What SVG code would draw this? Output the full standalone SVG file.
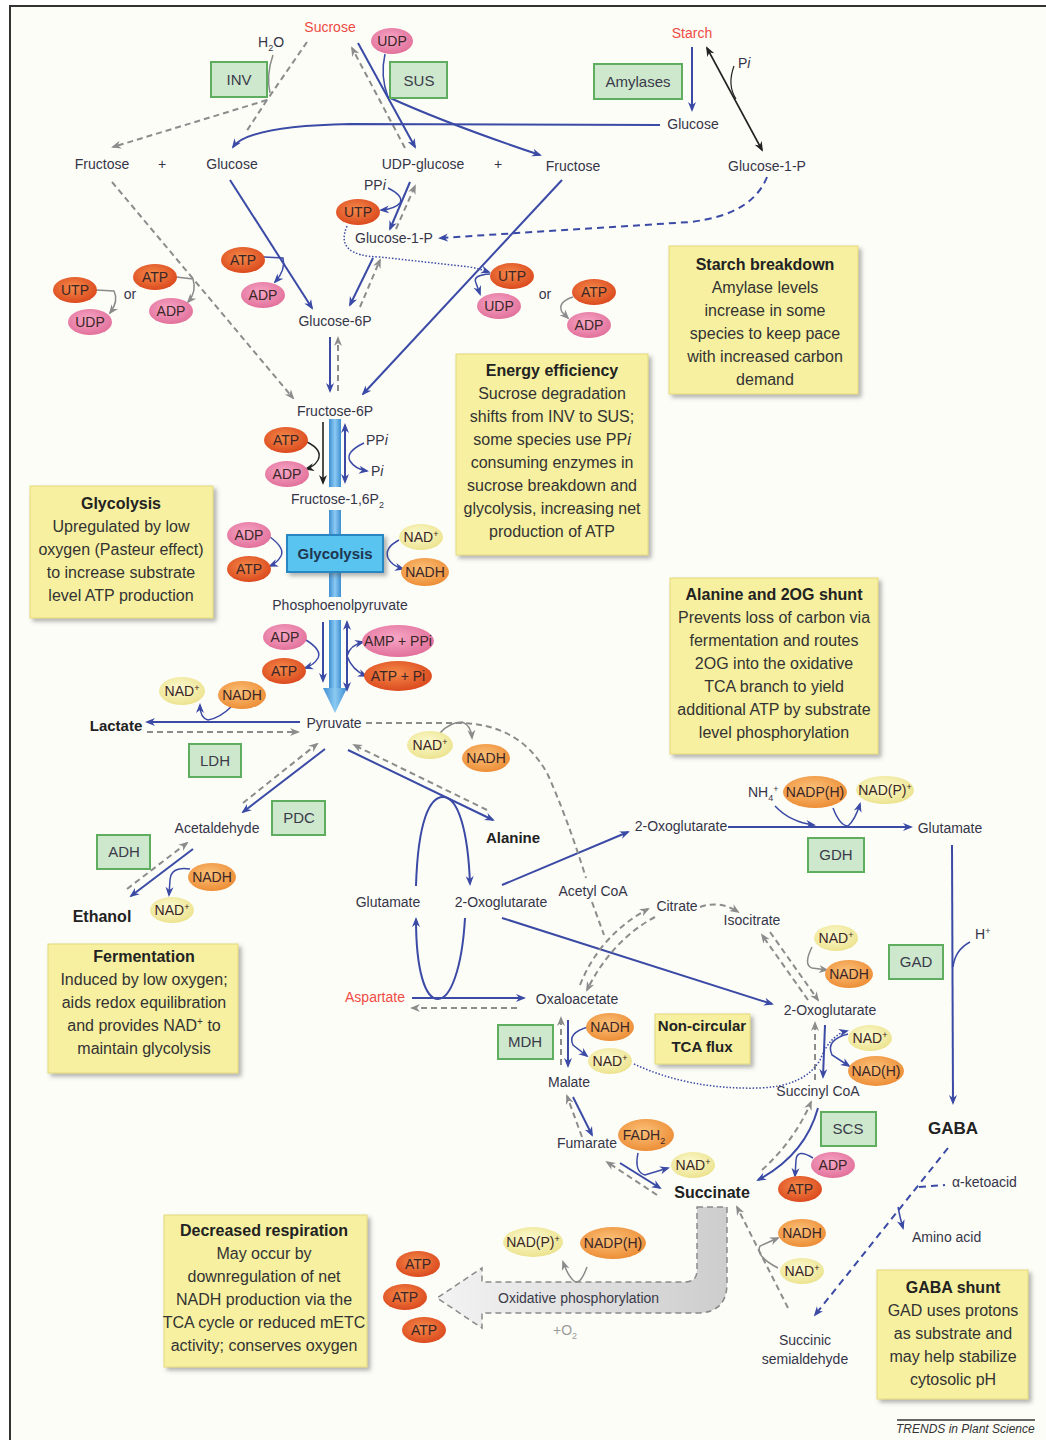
<svg xmlns="http://www.w3.org/2000/svg" width="1046" height="1440" viewBox="0 0 1046 1440">
<defs>
<style>
text{font-family:"Liberation Sans",Arial,sans-serif}
.t{font-size:14px;fill:#353548;text-anchor:middle}
.ts{font-size:14px;fill:#353548}
.tb{font-size:15px;font-weight:bold;fill:#222;text-anchor:middle}
.red{fill:#ee4b43}
.e{font-size:14px;fill:#3a2626;text-anchor:middle}
.n{font-size:16px;fill:#333;text-anchor:middle}
.nh{font-size:16px;font-weight:bold;fill:#222;text-anchor:middle}
.enz{font-size:15px;fill:#3a3a4a;text-anchor:middle}
.note{fill:#f6f0a0;stroke:#e3d97c;stroke-width:1;filter:url(#sh)}
.grn{fill:#cde8cc;stroke:#5fae5f;stroke-width:2}
.b{fill:none;stroke:#3a4aa5;stroke-width:2}
.bt{fill:none;stroke:#3a4aa5;stroke-width:1.5}
.bd{fill:none;stroke:#3a4aa5;stroke-width:2;stroke-dasharray:7,5}
.bdot{fill:none;stroke:#3a4aa5;stroke-width:1.5;stroke-dasharray:1.5,1.8}
.g{fill:none;stroke:#8c8c8c;stroke-width:2;stroke-dasharray:6,4}
.gs{fill:none;stroke:#8a8a8a;stroke-width:1.5}
.k{fill:none;stroke:#222;stroke-width:1.6}
.atp{fill:url(#gAtp)}
.adp{fill:url(#gAdp)}
.nadh{fill:url(#gNadh)}
.nad{fill:url(#gNad)}
</style>
<radialGradient id="gAtp" cx="45%" cy="40%" r="65%"><stop offset="0" stop-color="#f58a4a"/><stop offset="1" stop-color="#d9451b"/></radialGradient>
<radialGradient id="gAdp" cx="45%" cy="40%" r="65%"><stop offset="0" stop-color="#f7a6c6"/><stop offset="1" stop-color="#e06d98"/></radialGradient>
<radialGradient id="gNadh" cx="45%" cy="40%" r="65%"><stop offset="0" stop-color="#fbc27a"/><stop offset="1" stop-color="#ec8a32"/></radialGradient>
<radialGradient id="gNad" cx="45%" cy="40%" r="65%"><stop offset="0" stop-color="#fdfbd2"/><stop offset="1" stop-color="#ebe18a"/></radialGradient>
<linearGradient id="gBar" x1="0" x2="1" y1="0" y2="0"><stop offset="0" stop-color="#3d8ed2"/><stop offset="0.5" stop-color="#8ccaf2"/><stop offset="1" stop-color="#3d8ed2"/></linearGradient>
<linearGradient id="gOx" x1="0" x2="1" y1="0" y2="0"><stop offset="0" stop-color="#f3f3f3"/><stop offset="1" stop-color="#cdcdcd"/></linearGradient>
<filter id="sh" x="-10%" y="-10%" width="130%" height="130%"><feDropShadow dx="3" dy="3" stdDeviation="2" flood-color="#555" flood-opacity="0.45"/></filter>
<marker id="ab" viewBox="0 0 10 10" refX="8" refY="5" markerWidth="10" markerHeight="10" markerUnits="userSpaceOnUse" orient="auto-start-reverse"><path d="M0,1 L10,5 L0,9 L3,5z" fill="#3a4aa5"/></marker>
<marker id="ag" viewBox="0 0 10 10" refX="8" refY="5" markerWidth="10" markerHeight="10" markerUnits="userSpaceOnUse" orient="auto-start-reverse"><path d="M0,1 L10,5 L0,9 L3,5z" fill="#8c8c8c"/></marker>
<marker id="ak" viewBox="0 0 10 10" refX="8" refY="5" markerWidth="10" markerHeight="10" markerUnits="userSpaceOnUse" orient="auto-start-reverse"><path d="M0,1 L10,5 L0,9 L3,5z" fill="#222"/></marker>
</defs>

<rect x="0" y="0" width="1046" height="1440" fill="#ffffff"/>
<rect x="10" y="6" width="1050" height="1450" fill="#fdfdf8" stroke="#333" stroke-width="2"/>

<!-- glycolysis bar -->
<g id="glycolysis-bar" fill="url(#gBar)">
<rect x="329" y="419" width="12" height="68"/>
<rect x="329" y="510" width="12" height="26"/>
<rect x="329" y="572" width="12" height="25"/>
<rect x="329" y="620" width="12" height="70"/>
<path d="M323,688 L347,688 L335,713 Z"/>
</g>

<!-- oxidative phosphorylation arrow -->
<g id="oxphos">
<path d="M697,1207 L727,1207 L727,1283 Q727,1313 697,1313 L482,1313 L482,1328 L437,1298 L482,1268 L482,1282 L685,1282 Q697,1282 697,1270 Z" fill="url(#gOx)" stroke="#8a8a8a" stroke-width="1.5" stroke-dasharray="6,4"/>
<text class="ts" x="498" y="1303" style="fill:#3a3a4a">Oxidative phosphorylation</text>
<text x="553" y="1335" style="font-size:14px;fill:#9a9a9a">+O<tspan dy="4" style="font-size:9px">2</tspan></text>
</g>

<!-- connectors -->
<g id="connectors">
<!-- sucrose / SUS / INV -->
<path class="b" d="M358,43 L415,147" marker-end="url(#ab)"/>
<path class="g" d="M405,148 L352,48" marker-end="url(#ag)"/>
<path class="bt" d="M385,54 Q380,76 388,97"/>
<path class="b" d="M388,97 Q450,125 540,155" marker-end="url(#ab)"/>
<path class="b" d="M660,125 L350,124 Q248,126 233,147" marker-end="url(#ab)"/>
<path class="b" d="M692,47 L692,110" marker-end="url(#ab)"/>
<path class="k" d="M707,48 L762,150" marker-start="url(#ak)" marker-end="url(#ak)"/>
<path class="k" style="stroke-width:1.2" d="M734,66 Q727,85 736,99"/>
<path class="bd" d="M767,177 Q752,215 690,222 L440,238" marker-end="url(#ab)"/>
<path class="g" d="M307,42 L267,100"/>
<path class="g" d="M267,100 L113,147" marker-end="url(#ag)"/>
<path class="g" d="M267,100 L246,132"/>
<path class="gs" d="M273,55 Q266,75 270,93"/>
<path class="g" d="M112,182 L293,398" marker-end="url(#ag)"/>
<path class="gs" d="M176,277 L193,279 Q197,292 188,302" marker-end="url(#ag)"/>
<path class="gs" d="M96,290 L114,291 Q119,301 110,313" marker-end="url(#ag)"/>
<path class="b" d="M230,180 L312,308" marker-end="url(#ab)"/>
<path class="bt" d="M264,257 L283,258 Q286,270 275,282" marker-end="url(#ab)"/>
<path class="b" d="M562,180 L363,394" marker-end="url(#ab)"/>
<path class="b" d="M410,182 L390,229" marker-end="url(#ab)"/>
<path class="g" d="M396,229 L415,186" marker-end="url(#ag)"/>
<path class="bt" d="M388,188 Q404,196 400,203 Q395,209 381,210" marker-end="url(#ab)"/>
<path class="bdot" d="M347,226 Q334,256 380,257 L470,267 Q480,269 489,272" marker-end="url(#ab)"/>
<path class="bt" d="M490,274 Q472,275 476,283 L480,294" marker-end="url(#ab)"/>
<path class="gs" d="M573,297 Q557,302 562,312 L568,318" marker-end="url(#ag)"/>
<path class="b" d="M373,258 L350,305" marker-end="url(#ab)"/>
<path class="g" d="M360,307 L380,260" marker-end="url(#ag)"/>
<path class="b" d="M330,337 L330,391" marker-end="url(#ab)"/>
<path class="g" d="M338,391 L338,338" marker-end="url(#ag)"/>
<!-- upper glycolysis -->
<path class="k" d="M323,422 L323,483" marker-end="url(#ak)"/>
<path class="k" style="stroke-width:1.4" d="M307,442 Q323,450 318,460 Q314,467 306,469" marker-end="url(#ak)"/>
<path class="b" d="M345,425 L345,482" marker-start="url(#ab)" marker-end="url(#ab)"/>
<path class="bt" d="M364,443 Q345,452 350,461 Q355,469 367,471" marker-end="url(#ab)"/>
<path class="bt" d="M270,537 Q285,548 281,556 Q277,563 270,566" marker-end="url(#ab)"/>
<path class="bt" d="M399,540 Q384,548 388,558 Q392,566 403,569" marker-end="url(#ab)"/>
<path class="b" d="M323,622 L323,681" marker-end="url(#ab)"/>
<path class="bt" d="M306,640 Q322,650 318,658 Q314,665 305,668" marker-end="url(#ab)"/>
<path class="b" d="M347,622 L347,690" marker-start="url(#ab)" marker-end="url(#ab)"/>
<path class="bt" d="M347,656 Q350,645 363,642" marker-end="url(#ab)"/>
<path class="bt" d="M347,656 Q352,670 366,676" marker-end="url(#ab)"/>
<!-- fermentation -->
<path class="b" d="M300,722 L147,722" marker-end="url(#ab)"/>
<path class="g" d="M147,732 L298,732" marker-end="url(#ag)"/>
<path class="bt" d="M232,706 Q220,718 208,720 Q200,718 200,705" marker-end="url(#ab)"/>
<path class="b" d="M325,749 L243,812" marker-end="url(#ab)"/>
<path class="g" d="M243,803 L317,744" marker-end="url(#ag)"/>
<path class="b" d="M193,849 L131,896" marker-end="url(#ab)"/>
<path class="g" d="M127,889 L187,843" marker-end="url(#ag)"/>
<path class="bt" d="M190,869 Q171,866 170,880 L169,895" marker-end="url(#ab)"/>
<!-- alanine / 2OG shunt -->
<path class="b" d="M348,750 L493,820" marker-end="url(#ab)"/>
<path class="g" d="M487,810 L354,745" marker-end="url(#ag)"/>
<path class="b" d="M416,886 C418,820 430,797 443,797 C458,797 468,830 470,884" marker-end="url(#ab)"/>
<path class="b" d="M465,918 C462,970 450,999 438,999 C425,999 416,970 416,919" marker-end="url(#ab)"/>
<path class="b" d="M412,998 L524,998" marker-end="url(#ab)"/>
<path class="g" d="M517,1008 L412,1008" marker-end="url(#ag)"/>
<path class="b" d="M502,885 L628,832" marker-end="url(#ab)"/>
<path class="b" d="M502,918 L772,1004" marker-end="url(#ab)"/>
<path class="g" d="M366,723 L455,723 Q520,722 548,775 Q568,820 586,878"/>
<path class="g" d="M592,902 L604,935"/>
<path class="gs" d="M440,733 Q450,722 462,722 Q471,725 472,738" marker-end="url(#ag)"/>
<path class="b" d="M728,827 L911,827" marker-end="url(#ab)"/>
<path class="bt" d="M775,806 Q790,822 814,825" marker-end="url(#ab)"/>
<path class="bt" d="M833,808 Q840,826 848,826 Q855,820 860,804" marker-end="url(#ab)"/>
<path class="b" d="M952,845 L953,1103" marker-end="url(#ab)"/>
<path class="bt" d="M970,942 Q955,950 953,967"/>
<!-- TCA dashed -->
<path class="g" d="M580,985 Q600,935 648,909" marker-end="url(#ag)"/>
<path class="g" d="M655,917 Q612,940 587,990" marker-end="url(#ag)"/>
<path class="g" d="M700,907 Q720,900 738,912" marker-end="url(#ag)"/>
<path class="g" d="M770,932 L818,1000" marker-end="url(#ag)"/>
<path class="g" d="M808,1000 L762,935" marker-end="url(#ag)"/>
<path class="gs" d="M812,947 Q803,965 812,968 L827,970" marker-end="url(#ag)"/>
<path class="g" d="M815,1080 L815,1023" marker-end="url(#ag)"/>
<path class="g" d="M762,1170 Q795,1140 811,1102" marker-end="url(#ag)"/>
<path class="g" d="M657,1195 L607,1162" marker-end="url(#ag)"/>
<path class="g" d="M582,1137 L567,1096" marker-end="url(#ag)"/>
<path class="g" d="M561,1065 L561,1018" marker-end="url(#ag)"/>
<!-- TCA blue -->
<path class="b" d="M568,1020 L568,1066" marker-end="url(#ab)"/>
<path class="bt" d="M588,1027 Q567,1033 573,1045 L587,1056" marker-end="url(#ab)"/>
<path class="b" d="M573,1097 L592,1135" marker-end="url(#ab)"/>
<path class="b" d="M620,1163 L660,1188" marker-end="url(#ab)"/>
<path class="bt" d="M638,1153 Q634,1172 645,1175 L668,1168" marker-end="url(#ab)"/>
<path class="b" d="M825,1025 L823,1077" marker-end="url(#ab)"/>
<path class="bt" d="M848,1034 Q825,1040 832,1055 L849,1066" marker-end="url(#ab)"/>
<path class="b" d="M818,1108 Q805,1155 758,1180" marker-end="url(#ab)"/>
<path class="bt" d="M813,1158 Q797,1148 796,1160 L795,1176" marker-end="url(#ab)"/>
<path class="bdot" d="M634,1064 Q690,1090 760,1088 Q805,1086 820,1060 Q830,1035 847,1031" marker-end="url(#ab)"/>
<!-- GABA shunt -->
<path class="bd" d="M948,1148 L815,1315" marker-end="url(#ab)"/>
<path class="bd" d="M919,1187 L945,1185"/>
<path class="bt" d="M898,1207 Q900,1218 903,1228" marker-end="url(#ab)"/>
<path class="g" d="M788,1308 L737,1207" marker-end="url(#ag)"/>
<path class="gs" d="M778,1268 Q755,1256 760,1246 L778,1238" marker-end="url(#ag)"/>
<path class="gs" d="M587,1267 Q580,1286 574,1281 Q568,1276 563,1262" marker-end="url(#ag)"/>
</g>

<!-- notes -->
<g id="note-starch"><rect class="note" x="669" y="246" width="189" height="148"/>
<text class="nh" x="765" y="270">Starch breakdown</text>
<text class="n" x="765" y="293">Amylase levels</text><text class="n" x="765" y="316">increase in some</text><text class="n" x="765" y="339">species to keep pace</text><text class="n" x="765" y="362">with increased carbon</text><text class="n" x="765" y="385">demand</text></g>

<g id="note-energy"><rect class="note" x="456" y="354" width="192" height="201"/>
<text class="nh" x="552" y="376">Energy efficiency</text>
<text class="n" x="552" y="399">Sucrose degradation</text><text class="n" x="552" y="422">shifts from INV to SUS;</text><text class="n" x="552" y="445">some species use PP<tspan font-style="italic">i</tspan></text><text class="n" x="552" y="468">consuming enzymes in</text><text class="n" x="552" y="491">sucrose breakdown and</text><text class="n" x="552" y="514">glycolysis, increasing net</text><text class="n" x="552" y="537">production of ATP</text></g>

<g id="note-glycolysis"><rect class="note" x="30" y="486" width="183" height="132"/>
<text class="nh" x="121" y="509">Glycolysis</text>
<text class="n" x="121" y="532">Upregulated by low</text><text class="n" x="121" y="555">oxygen (Pasteur effect)</text><text class="n" x="121" y="578">to increase substrate</text><text class="n" x="121" y="601">level ATP production</text></g>

<g id="note-alanine"><rect class="note" x="670" y="578" width="208" height="176"/>
<text class="nh" x="774" y="600">Alanine and 2OG shunt</text>
<text class="n" x="774" y="623">Prevents loss of carbon via</text><text class="n" x="774" y="646">fermentation and routes</text><text class="n" x="774" y="669">2OG into the oxidative</text><text class="n" x="774" y="692">TCA branch to yield</text><text class="n" x="774" y="715">additional ATP by substrate</text><text class="n" x="774" y="738">level phosphorylation</text></g>

<g id="note-fermentation"><rect class="note" x="48" y="944" width="190" height="129"/>
<text class="nh" x="144" y="962">Fermentation</text>
<text class="n" x="144" y="985">Induced by low oxygen;</text><text class="n" x="144" y="1008">aids redox equilibration</text><text class="n" x="144" y="1031">and provides NAD<tspan dy="-6" style="font-size:10px">+</tspan><tspan dy="6"> to</tspan></text><text class="n" x="144" y="1054">maintain glycolysis</text></g>

<g id="note-respiration"><rect class="note" x="164" y="1215" width="203" height="152"/>
<text class="nh" x="264" y="1236">Decreased respiration</text>
<text class="n" x="264" y="1259">May occur by</text><text class="n" x="264" y="1282">downregulation of net</text><text class="n" x="264" y="1305">NADH production via the</text><text class="n" x="264" y="1328">TCA cycle or reduced mETC</text><text class="n" x="264" y="1351">activity; conserves oxygen</text></g>

<g id="note-gaba"><rect class="note" x="877" y="1270" width="151" height="129"/>
<text class="nh" x="953" y="1293">GABA shunt</text>
<text class="n" x="953" y="1316">GAD uses protons</text><text class="n" x="953" y="1339">as substrate and</text><text class="n" x="953" y="1362">may help stabilize</text><text class="n" x="953" y="1385">cytosolic pH</text></g>

<g id="note-tca"><rect class="note" x="655" y="1014" width="95" height="50"/>
<text class="tb" x="702" y="1031">Non-circular</text><text class="tb" x="702" y="1052">TCA flux</text></g>

<!-- enzymes -->
<g id="enz-inv"><rect class="grn" x="211" y="62" width="56" height="35"/><text class="enz" x="239" y="85">INV</text></g>
<g id="enz-sus"><rect class="grn" x="390" y="62" width="57" height="36"/><text class="enz" x="419" y="86">SUS</text></g>
<g id="enz-amylases"><rect class="grn" x="594" y="64" width="88" height="35"/><text class="enz" x="638" y="87">Amylases</text></g>
<g id="enz-glycolysis"><rect x="287" y="535" width="96" height="37" fill="#58c4ef" stroke="#2b86c2" stroke-width="2" filter="url(#sh)"/><text class="tb" x="335" y="559" style="fill:#1e3550">Glycolysis</text></g>
<g id="enz-ldh"><rect class="grn" x="189" y="744" width="52" height="33"/><text class="enz" x="215" y="766">LDH</text></g>
<g id="enz-pdc"><rect class="grn" x="272" y="801" width="53" height="34"/><text class="enz" x="299" y="823">PDC</text></g>
<g id="enz-adh"><rect class="grn" x="97" y="835" width="53" height="34"/><text class="enz" x="124" y="857">ADH</text></g>
<g id="enz-gdh"><rect class="grn" x="808" y="838" width="56" height="34"/><text class="enz" x="836" y="860">GDH</text></g>
<g id="enz-gad"><rect class="grn" x="889" y="945" width="54" height="34"/><text class="enz" x="916" y="967">GAD</text></g>
<g id="enz-mdh"><rect class="grn" x="498" y="1025" width="55" height="34"/><text class="enz" x="525" y="1047">MDH</text></g>
<g id="enz-scs"><rect class="grn" x="821" y="1112" width="55" height="34"/><text class="enz" x="848" y="1134">SCS</text></g>

<!-- metabolites -->
<g id="m-sucrose"><text class="t red" x="330" y="32">Sucrose</text></g>
<g id="m-h2o"><text class="ts" x="258" y="47">H<tspan dy="4" style="font-size:9px">2</tspan><tspan dy="-4">O</tspan></text></g>
<g id="m-starch"><text class="t red" x="692" y="38">Starch</text></g>
<g id="m-pi-top"><text class="ts" x="738" y="68">P<tspan font-style="italic">i</tspan></text></g>
<g id="m-glucose-top"><text class="t" x="693" y="129">Glucose</text></g>
<g id="m-g1p-right"><text class="t" x="767" y="171">Glucose-1-P</text></g>
<g id="m-fructose-l"><text class="t" x="102" y="169">Fructose</text><text class="t" x="162" y="169">+</text></g>
<g id="m-glucose-l"><text class="t" x="232" y="169">Glucose</text></g>
<g id="m-udpg"><text class="t" x="423" y="169">UDP-glucose</text><text class="t" x="498" y="169">+</text></g>
<g id="m-fructose-r"><text class="t" x="573" y="171">Fructose</text></g>
<g id="m-ppi1"><text class="ts" x="364" y="190">PP<tspan font-style="italic">i</tspan></text></g>
<g id="m-g1p"><text class="t" x="394" y="243">Glucose-1-P</text></g>
<g id="m-or"><text class="t" x="130" y="299">or</text><text class="t" x="545" y="299">or</text></g>
<g id="m-g6p"><text class="t" x="335" y="326">Glucose-6P</text></g>
<g id="m-f6p"><text class="t" x="335" y="416">Fructose-6P</text></g>
<g id="m-ppi2"><text class="ts" x="366" y="445">PP<tspan font-style="italic">i</tspan></text><text class="ts" x="371" y="476">P<tspan font-style="italic">i</tspan></text></g>
<g id="m-f16bp"><text class="ts" x="291" y="504">Fructose-1,6P<tspan dy="4" style="font-size:9px">2</tspan></text></g>
<g id="m-pep"><text class="t" x="340" y="610">Phosphoenolpyruvate</text></g>
<g id="m-pyruvate"><text class="t" x="334" y="728">Pyruvate</text></g>
<g id="m-lactate"><text class="tb" x="116" y="731">Lactate</text></g>
<g id="m-acetaldehyde"><text class="t" x="217" y="833">Acetaldehyde</text></g>
<g id="m-ethanol"><text class="tb" x="102" y="922" style="font-size:16px">Ethanol</text></g>
<g id="m-alanine"><text class="tb" x="513" y="843">Alanine</text></g>
<g id="m-glutamate"><text class="t" x="388" y="907">Glutamate</text></g>
<g id="m-2og"><text class="t" x="501" y="907">2-Oxoglutarate</text></g>
<g id="m-acetylcoa"><text class="t" x="593" y="896">Acetyl CoA</text></g>
<g id="m-2og-r"><text class="t" x="681" y="831">2-Oxoglutarate</text></g>
<g id="m-nh4"><text class="ts" x="748" y="797">NH<tspan dy="4" style="font-size:9px">4</tspan><tspan dy="-9" style="font-size:9px">+</tspan></text></g>
<g id="m-glutamate-r"><text class="t" x="950" y="833">Glutamate</text></g>
<g id="m-citrate"><text class="t" x="677" y="911">Citrate</text></g>
<g id="m-isocitrate"><text class="t" x="752" y="925">Isocitrate</text></g>
<g id="m-h"><text class="ts" x="975" y="939">H<tspan dy="-5" style="font-size:9px">+</tspan></text></g>
<g id="m-aspartate"><text class="t red" x="375" y="1002">Aspartate</text></g>
<g id="m-oaa"><text class="t" x="577" y="1004">Oxaloacetate</text></g>
<g id="m-2og-tca"><text class="t" x="830" y="1015">2-Oxoglutarate</text></g>
<g id="m-malate"><text class="t" x="569" y="1087">Malate</text></g>
<g id="m-succoa"><text class="t" x="818" y="1096">Succinyl CoA</text></g>
<g id="m-gaba"><text class="tb" x="953" y="1134" style="font-size:17px">GABA</text></g>
<g id="m-fumarate"><text class="t" x="587" y="1148">Fumarate</text></g>
<g id="m-succinate"><text class="tb" x="712" y="1198" style="font-size:16px">Succinate</text></g>
<g id="m-ketoacid"><text class="ts" x="952" y="1187">α-ketoacid</text></g>
<g id="m-aminoacid"><text class="ts" x="912" y="1242">Amino acid</text></g>
<g id="m-ssa"><text class="t" x="805" y="1345">Succinic</text><text class="t" x="805" y="1364">semialdehyde</text></g>

<!-- cofactors -->
<g id="c-udp-top"><ellipse class="adp" cx="392" cy="41" rx="21" ry="13"/><text class="e" x="392" y="46">UDP</text></g>
<g id="c-utp1"><ellipse class="atp" cx="358" cy="212" rx="22" ry="13"/><text class="e" x="358" y="217">UTP</text></g>
<g id="c-utp-l"><ellipse class="atp" cx="75" cy="290" rx="22" ry="13"/><text class="e" x="75" y="295">UTP</text></g>
<g id="c-udp-l"><ellipse class="adp" cx="90" cy="322" rx="22" ry="13"/><text class="e" x="90" y="327">UDP</text></g>
<g id="c-atp-l"><ellipse class="atp" cx="155" cy="277" rx="22" ry="13"/><text class="e" x="155" y="282">ATP</text></g>
<g id="c-adp-l"><ellipse class="adp" cx="171" cy="311" rx="22" ry="13"/><text class="e" x="171" y="316">ADP</text></g>
<g id="c-atp-hk"><ellipse class="atp" cx="243" cy="260" rx="22" ry="13"/><text class="e" x="243" y="265">ATP</text></g>
<g id="c-adp-hk"><ellipse class="adp" cx="263" cy="295" rx="22" ry="13"/><text class="e" x="263" y="300">ADP</text></g>
<g id="c-utp-r"><ellipse class="atp" cx="512" cy="276" rx="22" ry="13"/><text class="e" x="512" y="281">UTP</text></g>
<g id="c-udp-r"><ellipse class="adp" cx="499" cy="306" rx="22" ry="13"/><text class="e" x="499" y="311">UDP</text></g>
<g id="c-atp-r"><ellipse class="atp" cx="594" cy="292" rx="22" ry="13"/><text class="e" x="594" y="297">ATP</text></g>
<g id="c-adp-r"><ellipse class="adp" cx="589" cy="325" rx="22" ry="13"/><text class="e" x="589" y="330">ADP</text></g>
<g id="c-atp-pfk"><ellipse class="atp" cx="286" cy="440" rx="22" ry="13"/><text class="e" x="286" y="445">ATP</text></g>
<g id="c-adp-pfk"><ellipse class="adp" cx="287" cy="474" rx="22" ry="13"/><text class="e" x="287" y="479">ADP</text></g>
<g id="c-adp-gly"><ellipse class="adp" cx="249" cy="535" rx="22" ry="13"/><text class="e" x="249" y="540">ADP</text></g>
<g id="c-atp-gly"><ellipse class="atp" cx="249" cy="569" rx="22" ry="13"/><text class="e" x="249" y="574">ATP</text></g>
<g id="c-nad-gly"><ellipse class="nad" cx="421" cy="537" rx="22" ry="13"/><text class="e" x="421" y="542">NAD<tspan dy="-5" style="font-size:9px">+</tspan></text></g>
<g id="c-nadh-gly"><ellipse class="nadh" cx="425" cy="572" rx="24" ry="14"/><text class="e" x="425" y="577">NADH</text></g>
<g id="c-adp-pk"><ellipse class="adp" cx="285" cy="637" rx="22" ry="13"/><text class="e" x="285" y="642">ADP</text></g>
<g id="c-atp-pk"><ellipse class="atp" cx="284" cy="671" rx="22" ry="13"/><text class="e" x="284" y="676">ATP</text></g>
<g id="c-amp"><ellipse class="adp" cx="398" cy="641" rx="36" ry="16"/><text class="e" x="398" y="646">AMP + PPi</text></g>
<g id="c-atppi"><ellipse class="atp" cx="398" cy="676" rx="34" ry="15"/><text class="e" x="398" y="681">ATP + Pi</text></g>
<g id="c-nad-ldh"><ellipse class="nad" cx="182" cy="691" rx="23" ry="14"/><text class="e" x="182" y="696">NAD<tspan dy="-5" style="font-size:9px">+</tspan></text></g>
<g id="c-nadh-ldh"><ellipse class="nadh" cx="242" cy="695" rx="24" ry="14"/><text class="e" x="242" y="700">NADH</text></g>
<g id="c-nad-pdh"><ellipse class="nad" cx="430" cy="745" rx="23" ry="14"/><text class="e" x="430" y="750">NAD<tspan dy="-5" style="font-size:9px">+</tspan></text></g>
<g id="c-nadh-pdh"><ellipse class="nadh" cx="486" cy="758" rx="24" ry="14"/><text class="e" x="486" y="763">NADH</text></g>
<g id="c-nadh-adh"><ellipse class="nadh" cx="212" cy="877" rx="24" ry="14"/><text class="e" x="212" y="882">NADH</text></g>
<g id="c-nad-adh"><ellipse class="nad" cx="172" cy="910" rx="22" ry="13"/><text class="e" x="172" y="915">NAD<tspan dy="-5" style="font-size:9px">+</tspan></text></g>
<g id="c-nadph-gdh"><ellipse class="nadh" cx="815" cy="792" rx="32" ry="16"/><text class="e" x="815" y="797">NADP(H)</text></g>
<g id="c-nadp-gdh"><ellipse class="nad" cx="885" cy="790" rx="29" ry="14"/><text class="e" x="885" y="795">NAD(P)<tspan dy="-5" style="font-size:9px">+</tspan></text></g>
<g id="c-nad-idh"><ellipse class="nad" cx="836" cy="938" rx="22" ry="13"/><text class="e" x="836" y="943">NAD<tspan dy="-5" style="font-size:9px">+</tspan></text></g>
<g id="c-nadh-idh"><ellipse class="nadh" cx="849" cy="974" rx="24" ry="14"/><text class="e" x="849" y="979">NADH</text></g>
<g id="c-nadh-mdh"><ellipse class="nadh" cx="610" cy="1027" rx="24" ry="14"/><text class="e" x="610" y="1032">NADH</text></g>
<g id="c-nad-mdh"><ellipse class="nad" cx="610" cy="1061" rx="22" ry="13"/><text class="e" x="610" y="1066">NAD<tspan dy="-5" style="font-size:9px">+</tspan></text></g>
<g id="c-nad-ogdh"><ellipse class="nad" cx="870" cy="1038" rx="22" ry="13"/><text class="e" x="870" y="1043">NAD<tspan dy="-5" style="font-size:9px">+</tspan></text></g>
<g id="c-nadh-ogdh"><ellipse class="nadh" cx="876" cy="1071" rx="28" ry="15"/><text class="e" x="876" y="1076">NAD(H)</text></g>
<g id="c-fadh2"><ellipse class="nadh" cx="646" cy="1135" rx="28" ry="16"/><text class="e" x="644" y="1140">FADH<tspan dy="4" style="font-size:9px">2</tspan></text></g>
<g id="c-nad-fum"><ellipse class="nad" cx="693" cy="1165" rx="22" ry="13"/><text class="e" x="693" y="1170">NAD<tspan dy="-5" style="font-size:9px">+</tspan></text></g>
<g id="c-adp-scs"><ellipse class="adp" cx="833" cy="1165" rx="22" ry="13"/><text class="e" x="833" y="1170">ADP</text></g>
<g id="c-atp-scs"><ellipse class="atp" cx="800" cy="1189" rx="22" ry="13"/><text class="e" x="800" y="1194">ATP</text></g>
<g id="c-nadh-ssa"><ellipse class="nadh" cx="802" cy="1233" rx="24" ry="14"/><text class="e" x="802" y="1238">NADH</text></g>
<g id="c-nad-ssa"><ellipse class="nad" cx="802" cy="1271" rx="22" ry="13"/><text class="e" x="802" y="1276">NAD<tspan dy="-5" style="font-size:9px">+</tspan></text></g>
<g id="c-nadp-ox"><ellipse class="nad" cx="533" cy="1242" rx="30" ry="15"/><text class="e" x="533" y="1247">NAD(P)<tspan dy="-5" style="font-size:9px">+</tspan></text></g>
<g id="c-nadph-ox"><ellipse class="nadh" cx="613" cy="1243" rx="33" ry="16"/><text class="e" x="613" y="1248">NADP(H)</text></g>
<g id="c-atp-ox1"><ellipse class="atp" cx="418" cy="1264" rx="22" ry="13"/><text class="e" x="418" y="1269">ATP</text></g>
<g id="c-atp-ox2"><ellipse class="atp" cx="405" cy="1297" rx="22" ry="13"/><text class="e" x="405" y="1302">ATP</text></g>
<g id="c-atp-ox3"><ellipse class="atp" cx="424" cy="1330" rx="22" ry="13"/><text class="e" x="424" y="1335">ATP</text></g>

<g id="credit"><line x1="897" y1="1420" x2="1035" y2="1420" stroke="#333" stroke-width="1.5"/><text x="896" y="1433" style="font-size:12px;font-style:italic;fill:#333">TRENDS in Plant Science</text></g>
</svg>
